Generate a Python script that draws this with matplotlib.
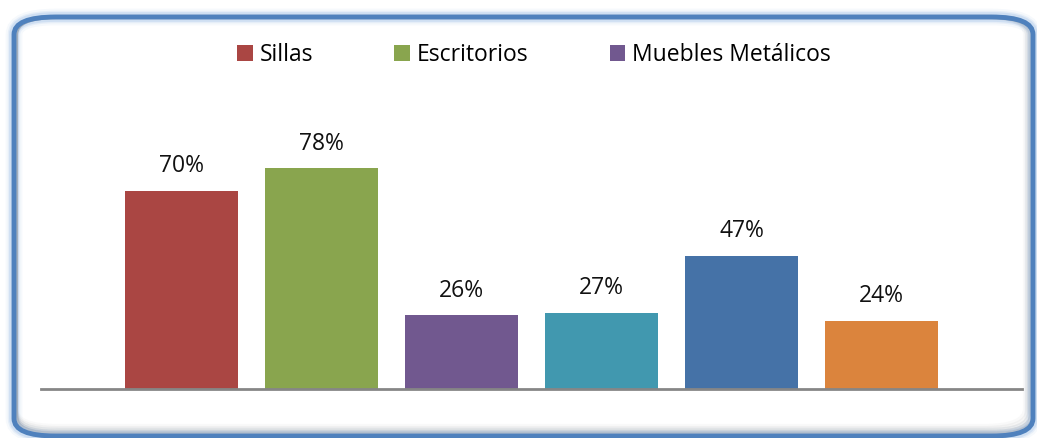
import numpy as np
import matplotlib
matplotlib.use("Agg")
from matplotlib import pyplot as plt
from matplotlib.patches import FancyBboxPatch, Patch

matplotlib.rcParams["font.family"] = ["Open Sans", "DejaVu Sans"]

positions = [1, 2, 3, 4, 5, 6]
values = [70, 78, 26, 27, 47, 24]
colors = ["#AA4643", "#89A54E", "#71588F", "#4198AF", "#4572A7", "#DB843D"]
legend_labels = ["Sillas", "Escritorios", "Muebles Metálicos"]

W, H = 1037, 438
fig = plt.figure(figsize=(W / 100, H / 100), dpi=100)

# rounded frame with glow and soft inner shadow
def fx(px):
    return px / W

def fy(py):
    return 1 - py / H

x0, y0, x1, y1 = 14, 17, 1033, 436
for lw, alpha in [(12, 0.08), (9, 0.15), (7, 0.25)]:
    fig.patches.append(FancyBboxPatch((fx(x0), fy(y1)), fx(x1 - x0), (y1 - y0) / H,
                                      boxstyle="round,pad=0,rounding_size=0.04",
                                      transform=fig.transFigure, fill=False,
                                      edgecolor="#8DB3E2", linewidth=lw, alpha=alpha))
for off, alpha in [(10, 0.03), (8, 0.05), (6, 0.07), (4, 0.1), (2, 0.14)]:
    fig.patches.append(FancyBboxPatch((fx(x0 + 2), fy(y1 - off)), fx(x1 - x0 - off), (y1 - y0 - off) / H,
                                      boxstyle="round,pad=0,rounding_size=0.04",
                                      transform=fig.transFigure, fill=False,
                                      edgecolor="#555555", linewidth=3, alpha=alpha))
fig.patches.append(FancyBboxPatch((fx(x0), fy(y1)), fx(x1 - x0), (y1 - y0) / H,
                                  boxstyle="round,pad=0,rounding_size=0.04",
                                  transform=fig.transFigure, fill=False,
                                  edgecolor="#4F81BD", linewidth=3.5))

# axes: baseline at y=389, 100% ~ 283 px above it
ax = fig.add_axes([fx(41), fy(389), fx(1022 - 41), 283 / H])
ax.bar(positions, values, width=0.805, color=colors, zorder=2)
for p, v in zip(positions, values):
    ax.text(p, v + 4.5, f"{v}%", ha="center", va="bottom", fontsize=16.5, color="#111111")

ax.set_xlim(0, 7)
ax.set_ylim(0, 100)
ax.set_xticks([])
ax.set_yticks([])
for s in ["top", "right", "left"]:
    ax.spines[s].set_visible(False)
ax.spines["bottom"].set_color("#868686")
ax.spines["bottom"].set_linewidth(2)
ax.patch.set_visible(False)

handles = [Patch(facecolor=c) for c in colors[:3]]
fig.legend(handles, legend_labels, loc="center", bbox_to_anchor=(fx(534), fy(55)),
           ncol=3, frameon=False, fontsize=16.5, handlelength=0.68, handleheight=0.68,
           handletextpad=0.3, columnspacing=3.55)

fig.savefig("out.png", dpi=100)
